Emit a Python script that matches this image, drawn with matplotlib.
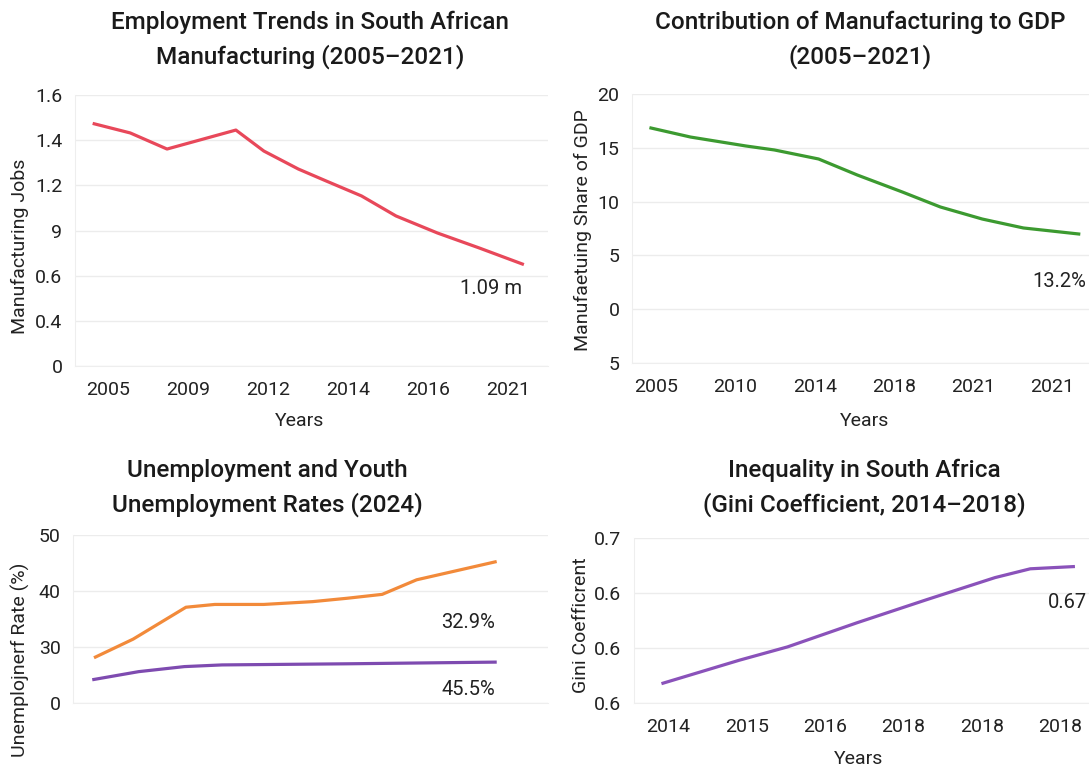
import matplotlib
matplotlib.use("Agg")
import matplotlib.pyplot as plt

plt.rcParams['font.family'] = ['Roboto', 'DejaVu Sans']

W, H = 1089, 771

# panel 1: manufacturing jobs (millions)
jobs_x = [-0.17, 0.28, 0.74, 1.60, 1.95, 2.38, 2.73, 3.17, 3.60, 4.12, 4.64, 5.18]
jobs_y = [1.43, 1.376, 1.281, 1.393, 1.269, 1.163, 1.092, 1.004, 0.886, 0.785, 0.697, 0.602]
jobs_xticks = ['2005', '2009', '2012', '2014', '2016', '2021']
jobs_yticks = ['0', '0.4', '0.6', '9', '1.2', '1.4', '1.6']

# panel 2: manufacturing share of GDP (%)
gdp_x = [-0.07, 0.43, 1.13, 1.49, 2.05, 2.54, 3.11, 3.59, 4.12, 4.64, 5.34]
gdp_y = [16.84, 16.0, 15.17, 14.8, 13.96, 12.47, 10.89, 9.5, 8.38, 7.55, 6.99]
gdp_xticks = ['2005', '2010', '2014', '2018', '2021', '2021']
gdp_yticks = ['5', '0', '5', '10', '15', '20']

# panel 3: unemployment rates
youth_x = [-0.15, 0.32, 0.98, 1.34, 1.95, 2.56, 2.99, 3.43, 3.86, 4.84]
youth_y = [28.2, 31.4, 37.1, 37.6, 37.6, 38.1, 38.7, 39.4, 42.0, 45.2]
total_x = [-0.17, 0.39, 0.96, 1.43, 2.99, 4.84]
total_y = [24.2, 25.6, 26.5, 26.8, 27.0, 27.3]
unemp_yticks = ['0', '30', '40', '50']

# panel 4: gini coefficient
gini_x = [-0.07, 0.91, 1.52, 2.41, 3.30, 4.17, 4.62, 5.17]
gini_y = [0.568, 0.589, 0.601, 0.623, 0.644, 0.664, 0.672, 0.674]
gini_xticks = ['2014', '2015', '2016', '2018', '2018', '2018']
gini_yticks = ['0.6', '0.6', '0.6', '0.7']

fig = plt.figure(figsize=(W / 100, H / 100), dpi=100)


def add_ax(l, r, t, b):
    return fig.add_axes([l / W, 1 - b / H, (r - l) / W, (b - t) / H])


def style(ax):
    for s in ['top', 'right']:
        ax.spines[s].set_visible(False)
    for s in ['left', 'bottom']:
        ax.spines[s].set_color('#eeeeee')
    ax.grid(axis='y', color='#ececec', linewidth=1)
    ax.set_axisbelow(True)
    ax.tick_params(length=0, labelsize=14, colors='#222222')
    ax.tick_params(axis='x', pad=11)
    ax.tick_params(axis='y', pad=9)


ttl = dict(fontsize=17.5, fontweight='medium', color='#1a1a1a', ha='center', va='center', linespacing=1.5)
lbl = dict(fontsize=14, color='#222222', ha='center', va='center')
ann = dict(fontsize=14.5, color='#222222', va='center')
lw = 2.3

# --- panel 1
ax1 = add_ax(75, 548, 95, 366)
style(ax1)
ax1.plot(jobs_x, jobs_y, color='#e8485a', lw=lw)
ax1.set_ylim(0, 1.6)
ax1.set_yticks([i * 1.6 / 6 for i in range(7)])
ax1.set_yticklabels(jobs_yticks)
ax1.set_xlim(-0.41, 5.5)
ax1.set_xticks(range(6))
ax1.set_xticklabels(jobs_xticks)
ax1.text(5.18, 0.46, '1.09 m', ha='right', **ann)
fig.text(300 / W, 1 - 421 / H, 'Years', **lbl)
fig.text(20 / W, 1 - 246 / H, 'Manufacturing Jobs', rotation=90, **lbl)
fig.text(310 / W, 1 - 40 / H, 'Employment Trends in South African\nManufacturing (2005–2021)', **ttl)

# --- panel 2
ax2 = add_ax(632, 1089, 94, 363)
style(ax2)
ax2.plot(gdp_x, gdp_y, color='#3c9a30', lw=lw)
ax2.set_ylim(-5, 20)
ax2.set_yticks([-5, 0, 5, 10, 15, 20])
ax2.set_yticklabels(gdp_yticks)
ax2.set_xlim(-0.31, 5.47)
ax2.set_xticks(range(6))
ax2.set_xticklabels(gdp_xticks)
ax2.text(5.44, 2.6, '13.2%', ha='right', **ann)
fig.text(865 / W, 1 - 421 / H, 'Years', **lbl)
fig.text(583 / W, 1 - 230 / H, 'Manufaetuing Share of GDP', rotation=90, **lbl)
fig.text(860 / W, 1 - 40 / H, 'Contribution of Manufacturing to GDP\n(2005–2021)', **ttl)

# --- panel 3
ax3 = add_ax(73, 548, 535, 703)
style(ax3)
ax3.plot(youth_x, youth_y, color='#f28a3a', lw=lw)
ax3.plot(total_x, total_y, color='#7e4bb0', lw=lw)
ax3.set_ylim(20, 50)
ax3.set_yticks([20, 30, 40, 50])
ax3.set_yticklabels(unemp_yticks)
ax3.set_xlim(-0.43, 5.5)
ax3.set_xticks([])
ax3.text(4.84, 34.4, '32.9%', ha='right', **ann)
ax3.text(4.84, 22.4, '45.5%', ha='right', **ann)
fig.text(20 / W, 1 - 660 / H, 'Unemplojnerf Rate (%)', rotation=90, **lbl)
fig.text(267 / W, 1 - 488 / H, 'Unemployment and Youth\nUnemployment Rates (2024)', **ttl)

# --- panel 4
ax4 = add_ax(634, 1089, 538, 703)
style(ax4)
ax4.plot(gini_x, gini_y, color='#8a52ba', lw=lw)
ax4.set_ylim(0.55, 0.70)
ax4.set_yticks([0.55, 0.60, 0.65, 0.70])
ax4.set_yticklabels(gini_yticks)
ax4.set_xlim(-0.44, 5.37)
ax4.set_xticks(range(6))
ax4.set_xticklabels(gini_xticks)
ax4.text(4.84, 0.641, '0.67', ha='left', clip_on=False, **ann)
fig.text(859 / W, 1 - 759 / H, 'Years', **lbl)
fig.text(581 / W, 1 - 625 / H, 'Gini Coefficrent', rotation=90, **lbl)
fig.text(864 / W, 1 - 488 / H, 'Inequality in South Africa\n(Gini Coefficient, 2014–2018)', **ttl)

fig.savefig('out.png', dpi=100)
